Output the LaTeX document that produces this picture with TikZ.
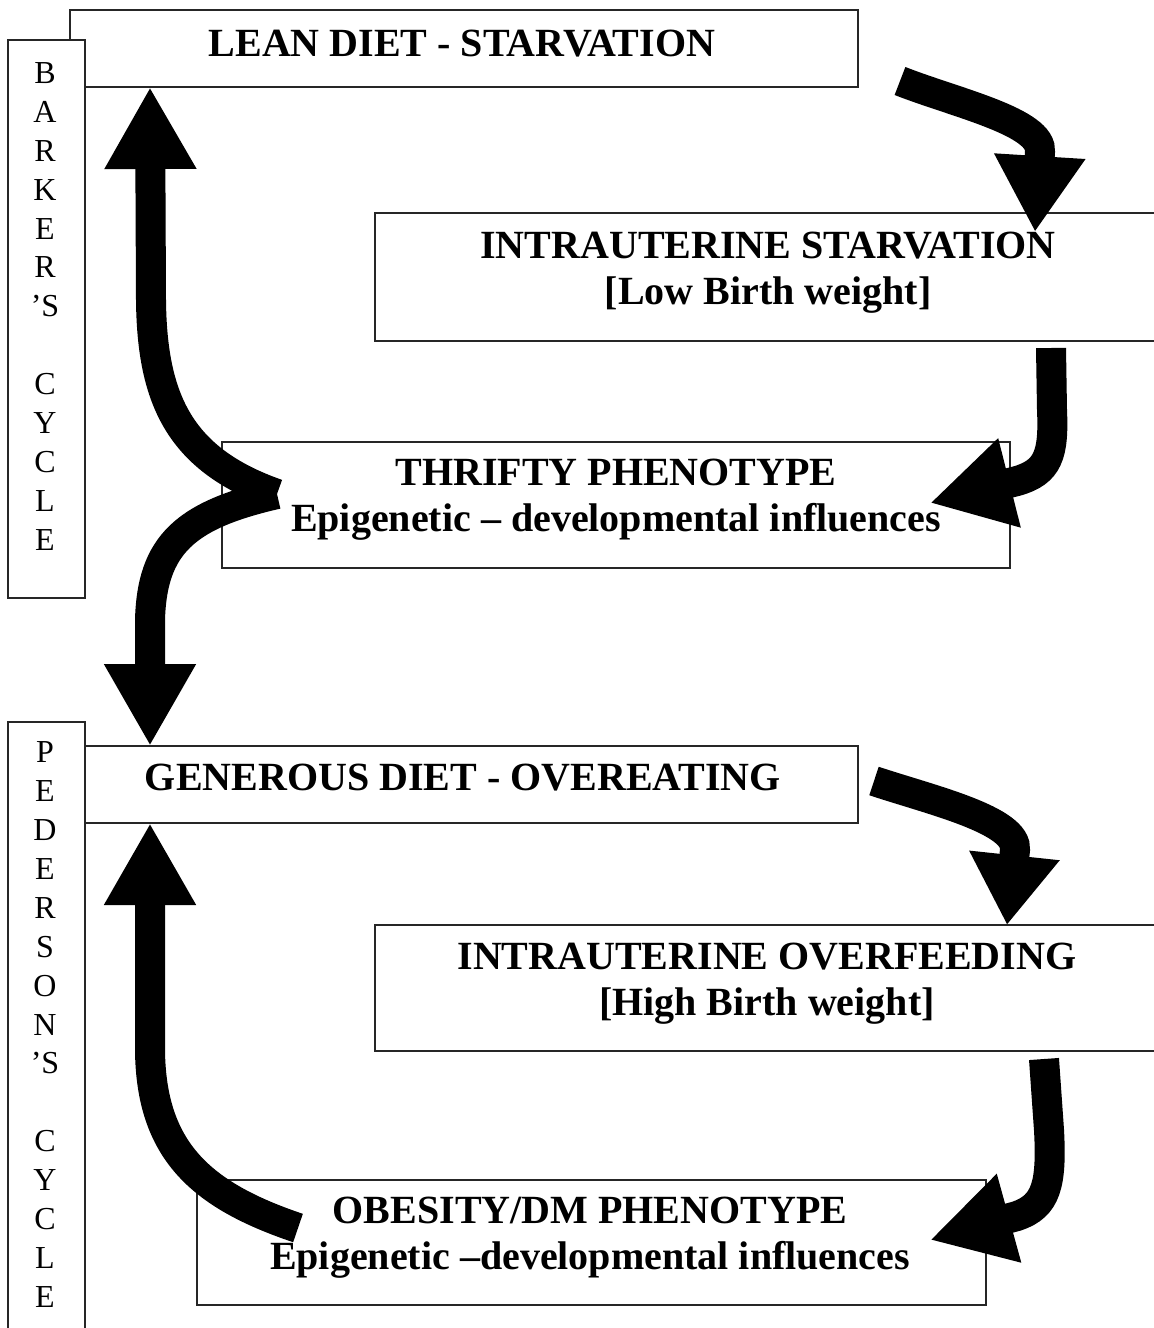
\documentclass[tikz,border=0pt]{standalone}
\usepackage{fontspec}
\setmainfont{Liberation Serif}
\usetikzlibrary{arrows.meta}

\begin{document}
\begin{tikzpicture}[x=0.5pt, y=-0.5pt,
    box/.style={draw=black!85, line width=0.9pt, fill=white, inner sep=0pt},
    caption/.style={font=\bfseries\fontsize{20}{23}\selectfont, align=center, inner sep=0pt},
    vletter/.style={font=\fontsize{16}{16}\selectfont, inner sep=0pt},
    flow/.style={line width=15pt, -{Triangle[length=#1, width=43pt]}},
    flow/.default=41pt]
    \useasboundingbox (0,0) rectangle (1153,1328);

    % boxes
    \node[box, minimum width=394pt, minimum height=38.5pt] (lean) at (464,48.5) {};
    \node[box, minimum width=38.5pt, minimum height=279pt] (barker) at (46.5,319) {};
    \node[box, minimum width=391pt, minimum height=64pt] (starv) at (766,277) {};
    \node[box, minimum width=394pt, minimum height=63pt] (thrifty) at (616,505) {};
    \node[box, minimum width=394pt, minimum height=38.5pt] (generous) at (464,784.5) {};
    \node[box, minimum width=38.5pt, minimum height=311.5pt] (pederson) at (46.5,1033.5) {};
    \node[box, minimum width=391pt, minimum height=63pt] (overfeed) at (766,988) {};
    \node[box, minimum width=394.5pt, minimum height=62.5pt] (obesity) at (591.5,1242.5) {};

    % side labels, one letter a line
    \foreach \ch [count=\i from 0] in {B,A,R,K,E,R,’S,{},C,Y,C,L,E}
        \node[vletter] (bk\i) at (45,{73+38.9*\i}) {\ch};
    \foreach \ch [count=\i from 0] in {P,E,D,E,R,S,O,N,’S,{},C,Y,C,L,E}
        \node[vletter] (pd\i) at (45,{752+38.93*\i}) {\ch};

    % texts
    \node[caption, anchor=base] (leantxt) at (462,56) {LEAN DIET - STARVATION};
    \node[caption, anchor=north] (starvtxt) at (768,232) {INTRAUTERINE STARVATION\\{}[Low Birth weight]};
    \node[caption, anchor=north] (thriftytxt) at (616,459) {THRIFTY PHENOTYPE\\Epigenetic – developmental influences};
    \node[caption, anchor=base] (generoustxt) at (463,790) {GENEROUS DIET - OVEREATING};
    \node[caption, anchor=north] (overfeedtxt) at (767,943) {INTRAUTERINE OVERFEEDING\\{}[High Birth weight]};
    \node[caption, anchor=north] (obesitytxt) at (590,1197) {OBESITY/DM PHENOTYPE\\Epigenetic –developmental influences};

    % arrow ends
    \coordinate (leanout) at (900,81);
    \coordinate (starvin) at (1035,232);
    \coordinate (starvout) at (1051,348);
    \coordinate (thriftyin) at (930,503);
    \coordinate (fork) at (277,494);
    \coordinate (leanin) at (150,87);
    \coordinate (generousin) at (150,746);
    \coordinate (generousout) at (874,781);
    \coordinate (overfeedin) at (1007,925);
    \coordinate (overfeedout) at (1044,1059);
    \coordinate (obesityin) at (930,1240);
    \coordinate (obesityout) at (298,1228);
    \coordinate (generousback) at (150,823);

    % Barker's cycle
    \draw[flow=38pt] (leanout) .. controls (956,103) and (1043,122) .. (1040,152) -- (starvin);
    \draw[flow] (starvout) -- (1052,410) .. controls (1054,455) and (1048,472) .. (1017,481) -- (thriftyin);
    \draw[flow] (fork) .. controls (180,460) and (152,400) .. (151,300) -- (leanin);
    \draw[flow] (fork) .. controls (185,515) and (152,545) .. (150,620) -- (generousin);

    % Pederson's cycle
    \draw[flow=35pt] (generousout) .. controls (931,800) and (1018,820) .. (1015,850) -- (overfeedin);
    \draw[flow] (overfeedout) -- (1049,1130) .. controls (1052,1185) and (1046,1206) .. (1017,1216) -- (obesityin);
    \draw[flow] (obesityout) .. controls (200,1195) and (151,1150) .. (150,1050) -- (generousback);
\end{tikzpicture}
\end{document}
